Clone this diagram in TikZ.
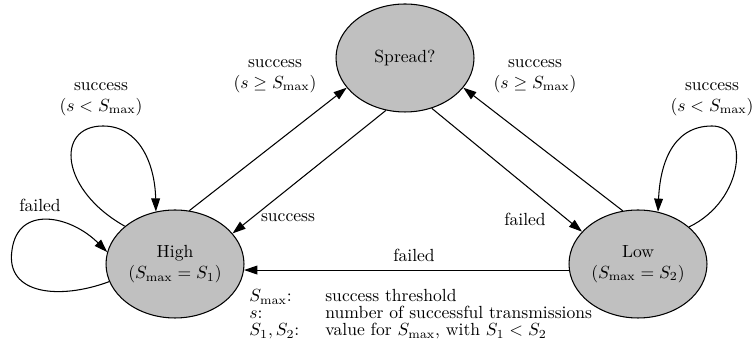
\documentclass[tikz,border=0pt]{standalone}
\usepackage{amsmath}
\usepackage{amssymb}
\usepackage{tikz}
\usetikzlibrary{shapes.geometric}
\usetikzlibrary{arrows.meta}
\usetikzlibrary{calc}

\definecolor{stategray}{RGB}{192,192,192}
\tikzset{
  state/.style={ellipse, draw, semithick, fill=stategray, align=center,
    minimum width=2.76cm, minimum height=2.16cm, inner sep=0pt},
  trans/.style={semithick, -{Triangle[length=7.5pt,width=5pt]}},
  lbl/.style={align=center, inner sep=1pt}
}

\begin{document}
\begin{tikzpicture}[x=0.02cm, y=-0.02cm]
\useasboundingbox (0,0) rectangle (754,350);

% states
\node[state] (spread) at (405,58) {Spread?};
\node[state] (high) at (175,264) {High\\$(S_{\max}=S_1)$};
\node[state] (low) at (638,264) {Low\\$(S_{\max}=S_2)$};

% transitions between states
\draw[trans] (high.75) -- (spread.207);
\draw[trans] (spread.250) -- (high.28);
\draw[trans] (spread.298) -- (low.150);
\draw[trans] (low.106) -- (spread.333);
\draw[trans] (low.185) -- (high.355);

% self loops
\draw[trans] (high.143) .. controls (60,190) and (55,126) .. (103,126)
   .. controls (140,126) and (155,165) .. (high.110);
\draw[trans] (high.195) .. controls (60,300) and (5,295) .. (12,250)
   .. controls (18,205) and (70,215) .. (high.170);
\draw[trans] (low.36) .. controls (745,200) and (750,126) .. (712,126)
   .. controls (672,126) and (660,165) .. (low.69);

% labels
\node[lbl] (lhh) at (101,99) {success\\$(s<S_{\max})$};
\node[lbl] (lhs) at (275,76) {success\\$(s\geq S_{\max})$};
\node[lbl] (lls) at (535,76) {success\\$(s\geq S_{\max})$};
\node[lbl] (lll) at (712,99) {success\\$(s<S_{\max})$};
\node[lbl] (lhf) at (40,205) {failed};
\node[lbl] (lsh) at (288,218) {success};
\node[lbl] (lsl) at (525,219) {failed};
\node[lbl] (llh) at (414,255) {failed};

% legend
\node[anchor=north west, inner sep=0pt] (legend) at (249,289) {%
  \renewcommand{\arraystretch}{0.74}%
  \begin{tabular}{@{}p{1.52cm}@{}l@{}}
    $S_{\max}$: & success threshold\\
    $s$: & number of successful transmissions\\
    $S_1,S_2$: & value for $S_{\max}$, with $S_1<S_2$
  \end{tabular}};

\end{tikzpicture}
\end{document}
